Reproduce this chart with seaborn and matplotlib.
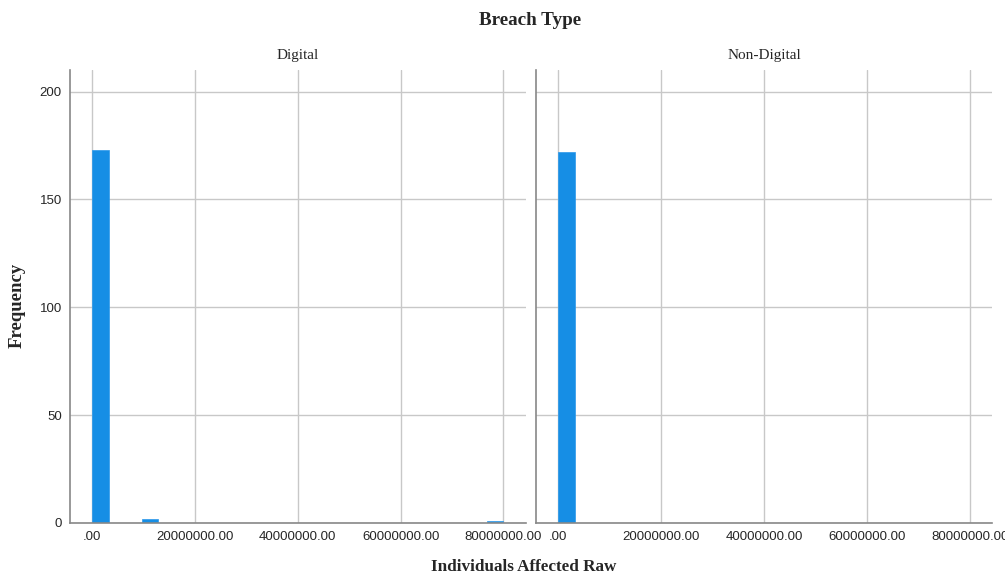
import pandas as pd
import matplotlib.pyplot as plt
import seaborn as sns

# histogram bins (25 bins of 3.2M from 0 to 80M) and counts
bin_width = 3200000
bin_left = [0, 9600000, 76800000]
digital_counts = [173, 2, 1]
nondigital_left = [0]
nondigital_counts = [172]
panels = ["Digital", "Non-Digital"]
x_ticks = [0, 20000000, 40000000, 60000000, 80000000]
y_ticks = [0, 50, 100, 150, 200]

df = pd.concat([
    pd.DataFrame({"Individuals": bin_left, "Count": digital_counts, "Breach Type": panels[0]}),
    pd.DataFrame({"Individuals": nondigital_left, "Count": nondigital_counts, "Breach Type": panels[1]}),
], ignore_index=True)
# put each value in the middle of its bin
df["Individuals"] = df["Individuals"] + bin_width / 2

sns.set_style("white")
serif = ["Liberation Serif", "DejaVu Serif"]
plt.rcParams["font.family"] = ["Liberation Sans", "DejaVu Sans"]

g = sns.FacetGrid(df, col="Breach Type", col_order=panels, sharey=True, sharex=True)
g.map_dataframe(sns.histplot, x="Individuals", weights="Count",
                binwidth=bin_width, binrange=(0, 80000000),
                color="#168EE5", alpha=1, edgecolor="#2A98EA", linewidth=0.5)
g.figure.set_size_inches(10.05, 5.77)
g.figure.subplots_adjust(left=0.0697, right=0.9868, bottom=0.0936, top=0.8787, wspace=0.0235)

for i, ax in enumerate(g.axes.flat):
    ax.set_xlim(-4300000, 84300000)
    ax.set_ylim(0, 210)
    ax.set_xticks(x_ticks)
    ax.set_xticklabels([".00" if t == 0 else f"{t}.00" for t in x_ticks], fontsize=9.5)
    ax.set_yticks(y_ticks)
    ax.set_yticklabels([str(t) for t in y_ticks], fontsize=9.5)
    ax.tick_params(length=0, pad=6)
    ax.grid(True, color="#c8c8c8", linewidth=1)
    ax.set_axisbelow(True)
    for s in ["top", "right"]:
        ax.spines[s].set_visible(False)
    for s in ["left", "bottom"]:
        ax.spines[s].set_visible(True)
        ax.spines[s].set_color("#888888")
        ax.spines[s].set_linewidth(1.2)
    ax.set_xlabel("")
    ax.set_ylabel("")
    ax.set_title(panels[i], fontsize=11, family=serif, pad=8)
    if i == 1:
        ax.tick_params(labelleft=False)

fig = g.figure
fig.text(0.527, 0.965, "Breach Type", ha="center", va="center", fontsize=13.8,
         fontweight="bold", family=serif)
fig.text(0.521, 0.018, "Individuals Affected Raw", ha="center", va="center", fontsize=12.3,
         fontweight="bold", family=serif)
fig.text(0.017, 0.471, "Frequency", ha="center", va="center", rotation=90, fontsize=13.5,
         fontweight="bold", family=serif)

fig.savefig("out.png", dpi=100)
